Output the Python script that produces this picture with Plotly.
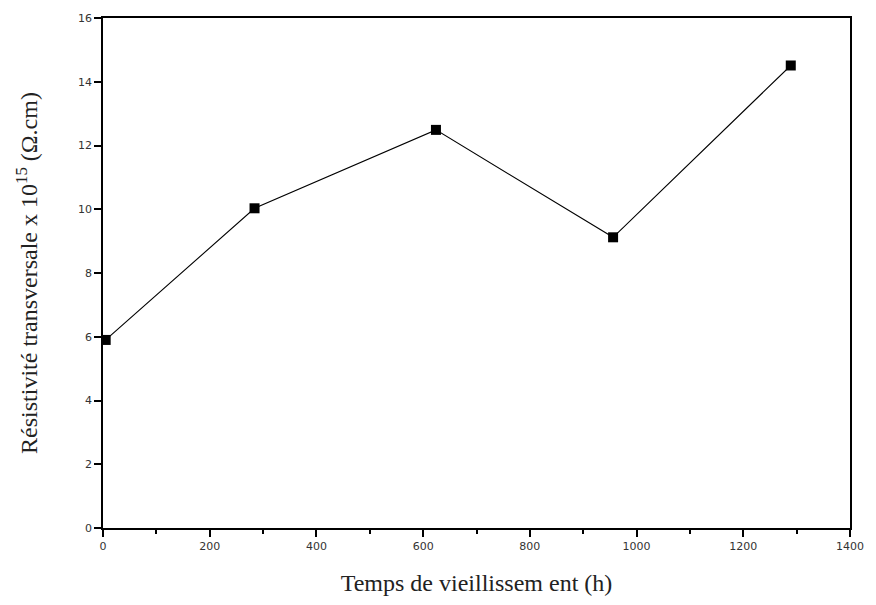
import plotly.graph_objects as go

# Data
temps_h = [5, 284, 624, 956, 1289]
resistivite = [5.9, 10.03, 12.49, 9.12, 14.51]
x_ticks = [0, 200, 400, 600, 800, 1000, 1200, 1400]
y_ticks = [0, 2, 4, 6, 8, 10, 12, 14, 16]

fig = go.Figure()
fig.add_trace(go.Scatter(
    x=temps_h, y=resistivite, mode="lines+markers",
    line=dict(color="black", width=1.1),
    marker=dict(symbol="square", size=10, color="black"),
    showlegend=False,
))

tick_font = dict(family="DejaVu Sans, Verdana, sans-serif", size=11, color="#333333")
title_font = dict(family="Liberation Serif, Times New Roman, serif", size=24, color="#222222")

fig.update_layout(
    width=876, height=605,
    margin=dict(l=103, r=21, t=16, b=77),
    plot_bgcolor="white", paper_bgcolor="white",
    xaxis=dict(
        range=[0, 1400], tickvals=x_ticks, ticktext=[str(v) for v in x_ticks],
        showgrid=False, zeroline=False,
        showline=True, linecolor="black", linewidth=1.5, mirror=True,
        ticks="outside", ticklen=7, tickwidth=1.5, tickcolor="black",
        minor=dict(ticks="outside", ticklen=4, tickwidth=1.5, tickcolor="black", dtick=100, showgrid=False),
        tickfont=tick_font,
        title=dict(text="Temps de vieillissem ent (h)", font=title_font, standoff=22),
    ),
    yaxis=dict(
        range=[0, 16], tickvals=y_ticks, ticktext=[str(v) for v in y_ticks],
        showgrid=False, zeroline=False,
        showline=True, linecolor="black", linewidth=1.5, mirror=True,
        ticks="outside", ticklen=7, tickwidth=1.5, tickcolor="black",
        tickfont=tick_font,
        title=dict(text="Résistivité transversale x 10<sup>15</sup> (Ω.cm)", font=title_font, standoff=34),
    ),
)

fig.write_html("out.html")
